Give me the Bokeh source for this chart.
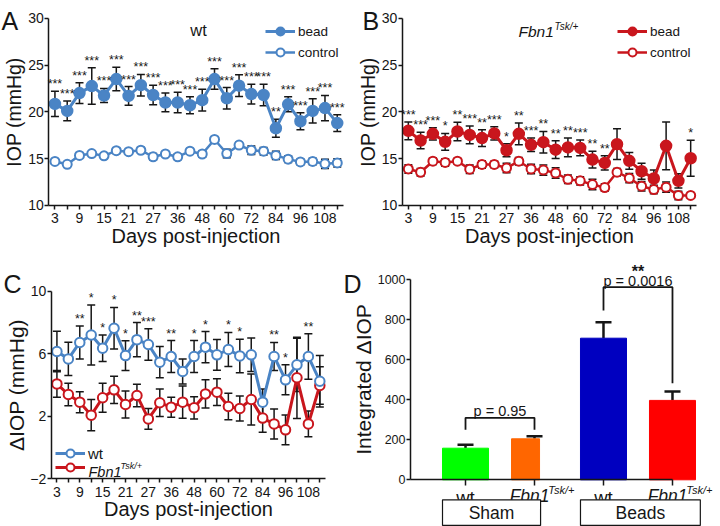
from bokeh.plotting import figure
from bokeh.models import (ColumnDataSource, Whisker, TeeHead, FixedTicker, Label,
                          Legend, LegendItem, Range1d)
from bokeh.layouts import row, column
from bokeh.embed import file_html
from bokeh.resources import INLINE
from bokeh.core.properties import value

FONT = "Liberation Sans"
INK = "#161616"
BLUE = "#4a84c5"
RED = "#c9161d"

# ---------------- data ----------------
days = [3, 6, 9, 12, 15, 18, 21, 24, 27, 30, 36, 42, 48, 54, 60, 66, 72, 78, 84, 90, 96, 102, 108, 114]
tick_days = [3, 9, 15, 21, 27, 36, 48, 60, 72, 84, 96, 108]

wt_bead = [20.85, 20.1, 22.0, 22.75, 21.75, 23.5, 21.7, 22.85, 21.8, 21.0, 21.0, 20.7,
           21.25, 23.5, 21.45, 22.8, 21.9, 21.8, 18.25, 20.8, 19.0, 20.1, 20.4, 18.8]
wt_bead_sem = [1.35, 1.05, 1.1, 1.95, 0.75, 1.25, 1.0, 1.15, 1.05, 1.0, 1.1, 0.9,
               1.15, 1.1, 1.15, 1.15, 1.05, 1.15, 0.95, 0.8, 0.9, 1.3, 1.35, 0.9]
wt_ctrl = [14.7, 14.4, 15.35, 15.55, 15.3, 15.85, 15.75, 15.9, 15.2, 15.5, 15.2, 15.8,
           15.5, 17.05, 15.55, 16.45, 15.9, 15.8, 15.35, 14.95, 14.65, 14.7, 14.45, 14.55]
wt_ctrl_sem = [0.2, 0.2, 0.25, 0.2, 0.2, 0.3, 0.2, 0.3, 0.35, 0.2, 0.3, 0.25,
               0.35, 0.3, 0.45, 0.3, 0.45, 0.4, 0.45, 0.35, 0.3, 0.35, 0.5, 0.45]
sig_wt = ["***", "***", "***", "***", "***", "***", "***", "***", "***", "***", "***", "***",
          "***", "***", "***", "***", "***", "***", "**", "***", "***", "***", "***", "***"]

fbn_bead = [17.97, 16.94, 17.65, 16.8, 17.9, 17.54, 17.2, 17.7, 15.9, 17.65, 16.48, 16.76,
            15.96, 16.2, 16.15, 14.9, 14.55, 16.55, 14.77, 13.66, 12.88, 16.37, 12.63, 15.05]
fbn_bead_sem = [0.95, 0.88, 0.65, 0.9, 0.98, 0.95, 0.9, 0.7, 0.7, 1.15, 0.72, 1.15,
                0.95, 1.0, 0.85, 0.9, 0.76, 1.65, 0.9, 0.85, 0.9, 2.55, 0.75, 1.92]
fbn_ctrl = [13.9, 13.55, 14.73, 14.6, 14.73, 13.88, 14.38, 14.38, 14.0, 14.73, 13.9, 13.78,
            13.47, 12.8, 12.63, 12.24, 11.92, 13.56, 12.92, 12.06, 11.7, 11.96, 11.07, 11.07]
fbn_ctrl_sem = [0.45, 0.4, 0.35, 0.4, 0.3, 0.45, 0.4, 0.35, 0.5, 0.4, 0.5, 0.55,
                0.55, 0.45, 0.45, 0.55, 0.4, 0.4, 0.5, 0.5, 0.45, 0.55, 0.45, 0.25]
sig_fbn = ["***", "***", "***", "*", "**", "***", "**", "***", "*", "**", "***", "**",
           "**", "**", "***", "**", "**", "", "", "", "", "", "", "*"]

d_wt = [6.14, 5.67, 6.72, 7.2, 6.35, 7.63, 5.88, 6.9, 6.59, 5.46, 5.82, 4.86,
        5.82, 6.42, 5.93, 6.27, 5.86, 5.93, 2.9, 5.82, 4.33, 5.29, 5.82, 4.24]
d_wt_sem = [1.3, 1.07, 1.05, 1.92, 0.85, 1.33, 0.95, 1.09, 1.0, 1.0, 1.02, 0.8,
            1.02, 1.0, 0.98, 1.09, 1.07, 1.07, 0.85, 0.9, 0.96, 1.7, 1.45, 1.65]
d_fbn = [4.07, 3.39, 2.9, 2.07, 3.18, 3.69, 2.75, 3.33, 1.83, 2.86, 2.58, 2.9,
         2.54, 3.43, 3.54, 2.62, 2.5, 3.07, 1.88, 1.51, 1.13, 4.46, 1.51, 3.97]
d_fbn_sem = [0.86, 0.72, 0.67, 1.0, 0.93, 0.87, 0.86, 0.72, 0.67, 0.88, 0.64, 1.03,
             0.71, 0.9, 0.86, 0.85, 0.8, 1.63, 0.9, 0.96, 0.95, 2.6, 0.83, 1.2]
sig_d = ["", "", "**", "*", "*", "*", "*", "**", "***", "", "**", "",
         "*", "*", "", "*", "*", "", "", "**", "*", "", "**", ""]

int_groups = ["Sham", "Beads"]
int_geno = ["wt", "Fbn1", "wt", "Fbn1"]
int_vals = [158, 205, 708, 397]
int_sem = [17, 13, 80, 44]
int_colors = ["#00ff00", "#ff6600", "#0000c0", "#ff0000"]
p_texts = ["p = 0.95", "p = 0.0016"]
bracket_top = [310, 963]
bracket_left_end = [250, 847]
bracket_right_end = [250, 483]

idx = list(range(len(days)))
xlabels = {i: (str(d) if d in tick_days else "") for i, d in zip(idx, days)}


def panel_fig(w, h, xr, yr):
    p = figure(width=w, height=h, x_range=Range1d(*xr), y_range=Range1d(*yr),
               output_backend="svg", toolbar_location=None, min_border=0,
               min_border_left=0, min_border_right=0, min_border_top=0, min_border_bottom=0)
    p.grid.visible = False
    p.outline_line_color = None
    return p


def style_axes(p, tick_size, label_size):
    for ax in p.axis:
        ax.axis_line_width = 1.5
        ax.axis_line_color = INK
        ax.major_tick_line_width = 1.5
        ax.major_tick_line_color = INK
        ax.major_tick_out = 4
        ax.major_tick_in = 0
        ax.minor_tick_line_color = None
        ax.major_label_text_font = FONT
        ax.major_label_text_font_size = tick_size
        ax.major_label_text_color = INK
        ax.axis_label_text_font = FONT
        ax.axis_label_text_font_size = label_size
        ax.axis_label_text_font_style = "normal"
        ax.axis_label_text_color = INK
    p.xaxis.major_label_standoff = 4
    p.xaxis.axis_label_standoff = -2
    p.yaxis.major_label_standoff = 1
    p.yaxis.axis_label_standoff = 0


def ts_fig(w, h, xr, yr, y0, y1, yticks, ylabel, ylab_size):
    p = panel_fig(w, h, xr, yr)
    p.xaxis.fixed_location = y0
    p.xaxis.bounds = (-0.5, len(days) - 0.5)
    p.yaxis.fixed_location = -0.5
    p.yaxis.bounds = (y0, y1)
    p.xaxis.ticker = FixedTicker(ticks=idx)
    p.xaxis.major_label_overrides = xlabels
    p.yaxis.ticker = FixedTicker(ticks=yticks)
    p.xaxis.axis_label = "Days post-injection"
    p.yaxis.axis_label = ylabel
    style_axes(p, "14px", ylab_size)
    p.xaxis.axis_label_text_font_size = "20px"
    return p


def series(p, y, sem, color, filled, lw, size, olw=2):
    src = ColumnDataSource(dict(x=idx, y=y,
                                up=[a + b for a, b in zip(y, sem)],
                                lo=[a - b for a, b in zip(y, sem)]))
    p.add_layout(Whisker(source=src, base="x", upper="up", lower="lo",
                         line_color=INK, line_width=1.5, level="underlay",
                         upper_head=TeeHead(size=8, line_color=INK, line_width=1.5),
                         lower_head=TeeHead(size=8, line_color=INK, line_width=1.5)))
    lr = p.line("x", "y", source=src, line_color=color, line_width=lw)
    sr = p.scatter("x", "y", source=src, marker="circle", size=size,
                   fill_color=color if filled else "white", line_color=color,
                   line_width=olw)
    return lr, sr


def stars(p, sig, y, sem, size="12.5px"):
    xs = [i for i, s in zip(idx, sig) if s]
    ys = [a + b for a, b, s in zip(y, sem, sig) if s]
    ts = [s for s in sig if s]
    p.text(x=xs, y=ys, text=ts, text_font=value(FONT), text_font_size=value(size),
           text_align="center", text_baseline="bottom", text_color=INK)


def lab(p, x, y, text, size, style="normal", align="left", baseline="alphabetic"):
    p.add_layout(Label(x=x, y=y, text=text, text_font=FONT, text_font_size=size,
                       text_font_style=style, text_align=align, text_baseline=baseline,
                       text_color=INK))


def legend(p, items, loc, gh=20, spacing=0, size="13.5px"):
    lg = Legend(items=[LegendItem(label=t, renderers=r) for t, r in items], location=loc,
                border_line_color=None, background_fill_alpha=0, padding=0, margin=0,
                spacing=spacing, glyph_width=30, glyph_height=gh, label_standoff=3,
                label_text_font=FONT, label_text_font_size=size, label_text_color=INK,
                label_height=14)
    p.add_layout(lg)


# ---------------- Panel A ----------------
pA = ts_fig(350, 260, (-4.435, 24.079), (4.127, 31.89), 10, 30, [10, 15, 20, 25, 30],
            "IOP (mmHg)", "19.5px")
c1 = series(pA, wt_ctrl, wt_ctrl_sem, BLUE, False, 2.5, 9)
b1 = series(pA, wt_bead, wt_bead_sem, BLUE, True, 3, 10.5)
stars(pA, sig_wt, wt_bead, wt_bead_sem)
lab(pA, -4.35, 29.7, "A", "25px")
lab(pA, 11.7, 28.69, "wt", "16.5px", align="center")
legend(pA, [("bead", list(b1)), ("control", list(c1))], (265, 198), spacing=1)

# ---------------- Panel B ----------------
pB = ts_fig(370, 260, (-4.712, 25.43), (4.127, 31.89), 10, 30, [10, 15, 20, 25, 30],
            "IOP (mmHg)", "19.5px")
c2 = series(pB, fbn_ctrl, fbn_ctrl_sem, RED, False, 2.5, 9)
b2 = series(pB, fbn_bead, fbn_bead_sem, RED, True, 3, 10.5)
stars(pB, sig_fbn, fbn_bead, fbn_bead_sem)
lab(pB, -3.73, 29.7, "B", "25px")
lab(pB, 8.97, 28.63, "Fbn1", "15.5px", style="italic")
lab(pB, 11.91, 29.11, "Tsk/+", "10px", style="italic")
legend(pB, [("bead", list(b2)), ("control", list(c2))], (267, 198), spacing=1)

# ---------------- Panel C ----------------
pC = ts_fig(340, 266, (-4.936, 24.81), (-5.054, 11.964), -2, 10, [-2, 2, 6, 10],
            "\u0394IOP (mmHg)", "21px")
r_f = series(pC, d_fbn, d_fbn_sem, RED, False, 3, 9.5)
r_w = series(pC, d_wt, d_wt_sem, BLUE, False, 3, 9.5)
stars(pC, sig_d, d_wt, d_wt_sem)
lab(pC, -4.67, 10.49, "C", "25px")
legend(pC, [("wt", list(r_w))], (55, 63), size="15px")
legend(pC, [(" ", list(r_f))], (55, 49), size="15px")
lab(pC, 2.76, -1.565, "Fbn1", "14.5px", style="italic")
lab(pC, 5.56, -1.21, "Tsk/+", "9px", style="italic")

# ---------------- Panel D ----------------
pos = [1, 2, 3, 4]
bar_w = [0.667, 0.406, 0.667, 0.667]       # drawn bar widths (style)
bar_shift = [0.0, -0.13, 0.0, 0.0]        # bar offsets from their tick (style)
pD = panel_fig(380, 266, (-0.812, 4.696), (-233.5, 1096.5))
pD.yaxis.fixed_location = 0.203
pD.yaxis.ticker = FixedTicker(ticks=[0, 200, 400, 600, 800, 1000])
pD.yaxis.bounds = (0, 1000)
pD.yaxis.axis_label = "Integrated \u0394IOP"
pD.xaxis.fixed_location = 0
pD.xaxis.bounds = (0.203, 4.0)
pD.xaxis.ticker = FixedTicker(ticks=pos)
pD.xaxis.major_label_overrides = {p: "" for p in pos}
style_axes(pD, "12.5px", "21px")
pD.xaxis.major_tick_out = 6

bx = [p + s for p, s in zip(pos, bar_shift)]
dsrc = ColumnDataSource(dict(x=pos, bx=bx, w=bar_w, top=int_vals,
                             up=[a + b for a, b in zip(int_vals, int_sem)], color=int_colors))
pD.add_layout(Whisker(source=dsrc, base="x", upper="up", lower="top", line_color=INK,
                      line_width=2.5, level="underlay",
                      upper_head=TeeHead(size=16, line_color=INK, line_width=2.5),
                      lower_head=None))
pD.vbar(x="bx", top="top", width="w", bottom=0, source=dsrc, fill_color="color",
        line_color="color")

for k in range(2):
    xl, xr = pos[2 * k], pos[2 * k + 1]
    pD.line([xl, xl, xr, xr],
            [bracket_left_end[k], bracket_top[k], bracket_top[k], bracket_right_end[k]],
            line_color=INK, line_width=1.8)
pD.text(x=[1.5, 3.5], y=[342, 996], text=p_texts, text_font=value(FONT),
        text_font_size=value("14.5px"), text_align="center", text_baseline="alphabetic",
        text_color=INK)
pD.text(x=[3.5], y=[1040], text=["**"], text_font=value(FONT), text_font_size=value("16px"),
        text_font_style="bold", text_align="center", text_baseline="alphabetic", text_color=INK)

wt_x = [p for p, g in zip(pos, int_geno) if g == "wt"]
fb_x = [p for p, g in zip(pos, int_geno) if g != "wt"]
pD.text(x=wt_x, y=[-86] * len(wt_x), text=["wt"] * len(wt_x), text_font=value(FONT),
        text_font_size=value("18.5px"), text_align="center", text_baseline="alphabetic",
        text_color=INK)
pD.text(x=[x - 0.36 for x in fb_x], y=[-80] * len(fb_x), text=["Fbn1"] * len(fb_x),
        text_font=value(FONT), text_font_size=value("17.5px"), text_font_style="italic",
        text_align="left", text_baseline="alphabetic", text_color=INK)
pD.text(x=[x + 0.2 for x in fb_x], y=[-53] * len(fb_x), text=["Tsk/+"] * len(fb_x),
        text_font=value(FONT), text_font_size=value("11px"), text_font_style="italic",
        text_align="left", text_baseline="alphabetic", text_color=INK)

box_l = [bx[0] - bar_w[0] / 2, bx[2] - bar_w[2] / 2]
box_r = [bx[1] + bar_w[1] / 2 + 0.015, bx[3] + bar_w[3] / 2 + 0.07]
pD.quad(left=box_l, right=box_r, top=[-100, -100], bottom=[-228, -228], fill_color="white",
        line_color=INK, line_width=1.2)
pD.text(x=[(a + b) / 2 for a, b in zip(box_l, box_r)], y=[-164, -164], text=int_groups,
        text_font=value(FONT), text_font_size=value("17.5px"), text_align="center",
        text_baseline="middle", text_color=INK)
lab(pD, -0.768, 981.5, "D", "25px")

layout = column(row(pA, pB), row(pC, pD))
open("out.html", "w").write(file_html(layout, INLINE))
